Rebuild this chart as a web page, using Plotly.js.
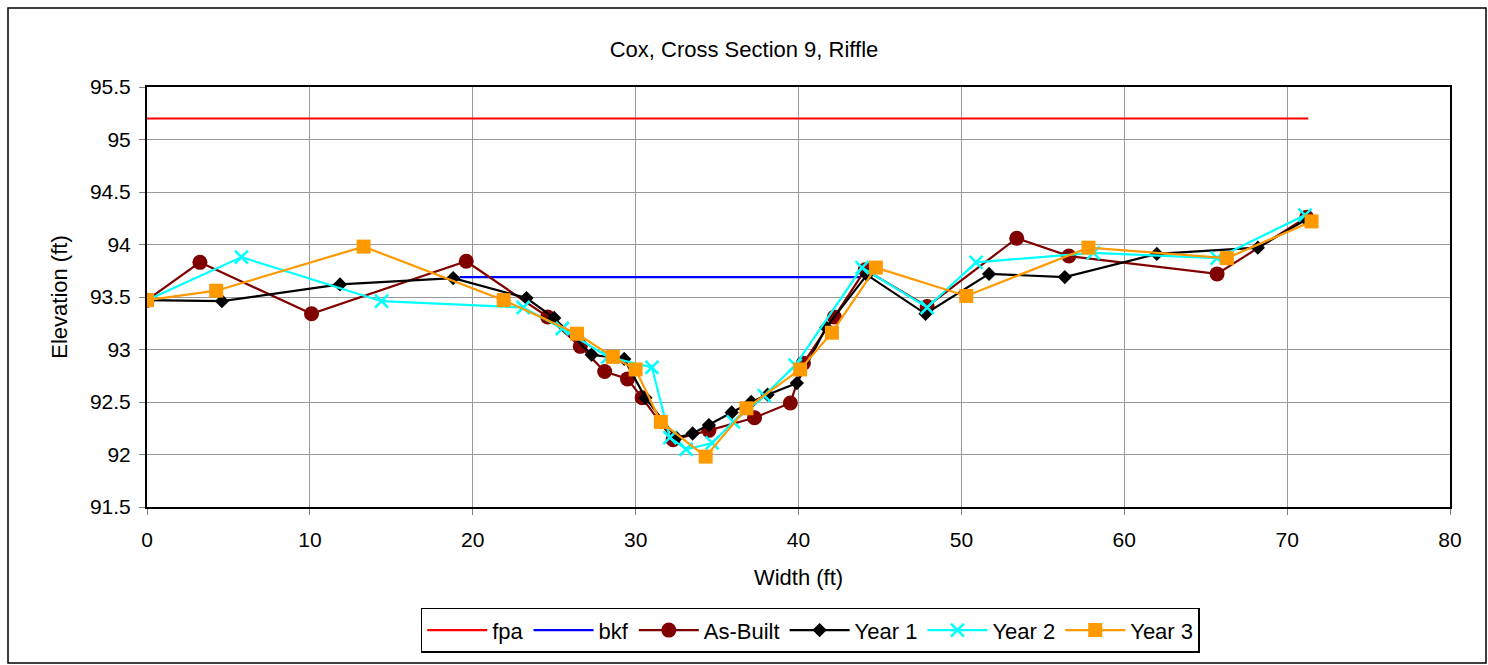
<!DOCTYPE html>
<html>
<head>
<meta charset="utf-8">
<script src="https://cdn.plot.ly/plotly-3.0.1.min.js"></script>
<style>
html,body{margin:0;padding:0;background:#fff;}
#chart{width:1488px;height:665px;}
</style>
</head>
<body>
<div id="chart"></div>
<script>
// Data
const fpaX = [0, 71.3];
const fpaY = [95.2, 95.2];
const bkfX = [19.2, 43.8];
const bkfY = [93.69, 93.69];

const asBuiltX = [0, 3.25, 10.1, 19.6, 24.6, 26.6, 28.1, 29.5, 30.4, 32.3, 34.5, 37.3, 39.5, 40.3, 42.2, 44.1, 47.9, 53.4, 56.6, 65.7, 71.2];
const asBuiltY = [93.47, 93.83, 93.34, 93.84, 93.31, 93.03, 92.79, 92.72, 92.54, 92.14, 92.23, 92.35, 92.49, 92.87, 93.31, 93.76, 93.41, 94.06, 93.89, 93.72, 94.26];

const year1X = [0, 4.6, 11.85, 18.8, 23.3, 25.0, 27.3, 29.3, 30.6, 32.5, 33.5, 34.5, 35.9, 37.1, 38.1, 39.9, 41.7, 44.2, 47.8, 51.7, 56.35, 62.0, 68.2, 71.2];
const year1Y = [93.47, 93.46, 93.62, 93.68, 93.49, 93.30, 92.95, 92.91, 92.54, 92.16, 92.20, 92.28, 92.40, 92.50, 92.57, 92.68, 93.21, 93.71, 93.34, 93.72, 93.69, 93.91, 93.97, 94.24];

const year2X = [0, 5.8, 14.4, 23.1, 25.5, 28.3, 31.0, 32.1, 33.1, 34.7, 36.0, 37.9, 39.8, 43.9, 47.9, 50.9, 58.1, 65.7, 71.1];
const year2Y = [93.47, 93.88, 93.46, 93.40, 93.20, 92.93, 92.83, 92.16, 92.05, 92.11, 92.31, 92.56, 92.85, 93.78, 93.40, 93.83, 93.92, 93.87, 94.28];

const year3X = [0, 4.25, 13.3, 21.9, 26.4, 28.6, 30.0, 31.55, 34.3, 36.8, 40.1, 42.05, 44.75, 50.3, 57.8, 66.3, 71.5];
const year3Y = [93.47, 93.56, 93.98, 93.47, 93.15, 92.93, 92.81, 92.31, 91.98, 92.44, 92.81, 93.16, 93.78, 93.51, 93.97, 93.87, 94.22];

const font = "Liberation Sans, Arial, sans-serif";

const traces = [
  {x: fpaX, y: fpaY, name: 'fpa', mode: 'lines', line: {color: '#FF0000', width: 2.2}},
  {x: bkfX, y: bkfY, name: 'bkf', mode: 'lines', line: {color: '#0000FF', width: 2.2}},
  {x: asBuiltX, y: asBuiltY, name: 'As-Built', mode: 'lines+markers',
   line: {color: '#800000', width: 2.2}, marker: {symbol: 'circle', size: 15, color: '#800000'}},
  {x: year1X, y: year1Y, name: 'Year 1', mode: 'lines+markers',
   line: {color: '#000000', width: 2.2}, marker: {symbol: 'diamond', size: 11, color: '#000000'}},
  {x: year2X, y: year2Y, name: 'Year 2', mode: 'lines+markers',
   line: {color: '#00FFFF', width: 2.2}, marker: {symbol: 'x-thin', size: 13, color: '#00FFFF', line: {color: '#00FFFF', width: 2.5}}},
  {x: year3X, y: year3Y, name: 'Year 3', mode: 'lines+markers',
   line: {color: '#FF9900', width: 2.2}, marker: {symbol: 'square', size: 14, color: '#FF9900'}}
];

const layout = {
  width: 1488, height: 665,
  paper_bgcolor: '#ffffff', plot_bgcolor: '#ffffff',
  margin: {l: 147, r: 38, t: 87, b: 158},
  font: {family: font, color: '#000', size: 21},
  title: {text: 'Cox, Cross Section 9, Riffle', font: {family: font, size: 22, color: '#000'},
          x: 0.5, xanchor: 'center', y: 1 - 49/665, yanchor: 'middle'},
  xaxis: {
    range: [0, 80], dtick: 10, tick0: 0,
    showgrid: true, gridcolor: '#999999', gridwidth: 1,
    zeroline: false, showline: true, linecolor: '#000', linewidth: 2, mirror: true,
    ticks: 'outside', ticklen: 6, tickcolor: '#808080', ticklabelstandoff: 7,
    tickfont: {family: font, size: 21, color: '#000'},
    title: {text: 'Width (ft)', font: {family: font, size: 22, color: '#000'}, standoff: 19}
  },
  yaxis: {
    range: [91.5, 95.5], dtick: 0.5, tick0: 91.5,
    showgrid: true, gridcolor: '#999999', gridwidth: 1,
    zeroline: false, showline: true, linecolor: '#000', linewidth: 2, mirror: true,
    ticks: 'outside', ticklen: 6, tickcolor: '#808080', ticklabelstandoff: 4,
    tickfont: {family: font, size: 21, color: '#000'},
    title: {text: 'Elevation (ft)', font: {family: font, size: 22, color: '#000'}, standoff: 16}
  },
  showlegend: true,
  legend: {
    orientation: 'h', x: 0.509, xanchor: 'center', y: -0.24, yanchor: 'top',
    bordercolor: '#000', borderwidth: 1.5, bgcolor: '#fff',
    font: {family: font, size: 22, color: '#000'}, itemwidth: 60,
    tracegroupgap: 0, traceorder: 'normal'
  },
  shapes: [{
    type: 'rect', xref: 'paper', yref: 'paper',
    x0: (8 - 147) / 1303, x1: (1486 - 147) / 1303,
    y0: (507 - 663) / 420, y1: (507 - 8) / 420,
    line: {color: '#000', width: 1.5}, fillcolor: 'rgba(0,0,0,0)', layer: 'below'
  }]
};

Plotly.newPlot('chart', traces, layout, {displayModeBar: false, staticPlot: true});
</script>
</body>
</html>
